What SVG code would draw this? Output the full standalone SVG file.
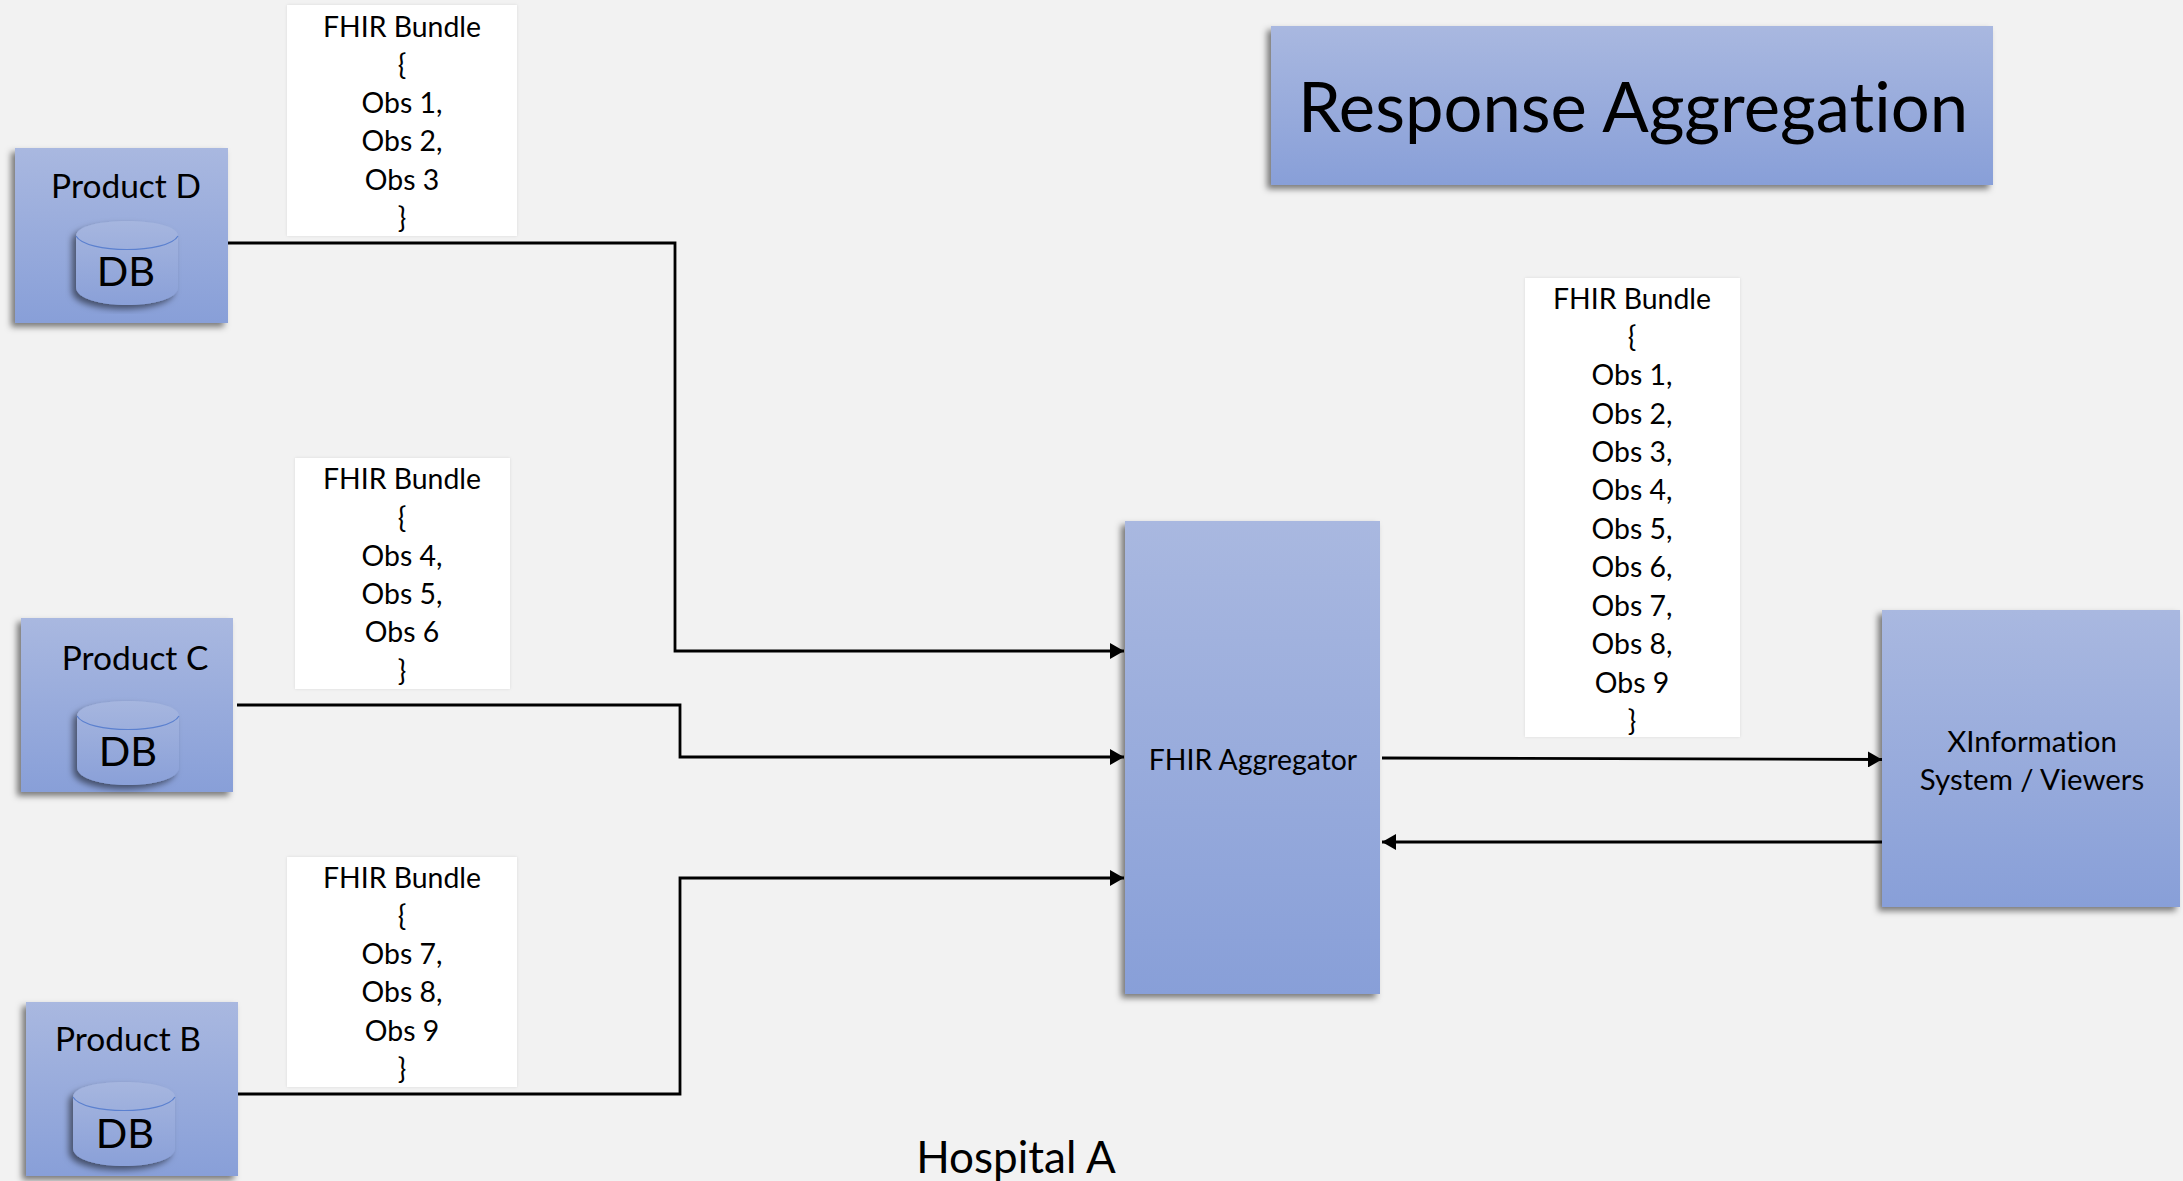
<svg xmlns="http://www.w3.org/2000/svg" width="2183" height="1181" viewBox="0 0 2183 1181">
<defs>
<linearGradient id="g" x1="0" y1="0" x2="0" y2="1"><stop offset="0" stop-color="#a9b8e0"/><stop offset="1" stop-color="#889fd8"/></linearGradient>
<linearGradient id="c" x1="0" y1="0" x2="0" y2="1"><stop offset="0" stop-color="#a6b6df"/><stop offset="1" stop-color="#8aa0d8"/></linearGradient>
<filter id="s" x="-10%" y="-10%" width="120%" height="120%"><feDropShadow dx="-4" dy="4" stdDeviation="3" flood-color="#000" flood-opacity=".5"/></filter>
<filter id="w" x="-5%" y="-5%" width="110%" height="110%"><feDropShadow dx="0" dy="0" stdDeviation="1.5" flood-color="#000" flood-opacity=".1"/></filter>
<marker id="a" viewBox="0 0 14 16" refX="14" refY="8" markerWidth="14" markerHeight="16" markerUnits="userSpaceOnUse" orient="auto"><path d="M0 0L14 8L0 16z" fill="#000"/></marker>
<g id="db"><path d="M0 15C0-5 102-5 102 15V66C102 90 0 90 0 66Z" fill="url(#c)" filter="url(#s)"/><path d="M0 15C10 33 92 33 102 15" fill="none" stroke="#5b80cf" stroke-width="1.2"/></g>
</defs>
<style>
text{font-family:Lato,"Open Sans",sans-serif;fill:#000;text-anchor:middle;font-variant-ligatures:none}
.t{font-size:28.4px}.v{font-size:29.4px}.b{font-size:33.5px}.d{font-size:41.5px}
.box{fill:url(#g);filter:url(#s)}.wb{fill:#fff;filter:url(#w)}
.cn{fill:none;stroke:#000;stroke-width:2.8;marker-end:url(#a)}
</style>
<rect width="2183" height="1181" fill="#f2f2f2"/>
<g id="title"><rect class="box" x="1271" y="26" width="722" height="159"/><text x="1633" y="132" font-size="70" textLength="670" lengthAdjust="spacingAndGlyphs">Response Aggregation</text></g>
<g id="bundle-d"><rect class="wb" x="287" y="5" width="230" height="231"/>
<text class="t" x="402" y="37">FHIR Bundle</text><text class="t" x="402" y="75">{</text><text class="t" x="402" y="113">Obs 1,</text><text class="t" x="402" y="151">Obs 2,</text><text class="t" x="402" y="190">Obs 3</text><text class="t" x="402" y="228">}</text></g>
<g id="bundle-c"><rect class="wb" x="295" y="458" width="215" height="231"/>
<text class="t" x="402" y="489">FHIR Bundle</text><text class="t" x="402" y="528">{</text><text class="t" x="402" y="566">Obs 4,</text><text class="t" x="402" y="604">Obs 5,</text><text class="t" x="402" y="642">Obs 6</text><text class="t" x="402" y="681">}</text></g>
<g id="bundle-b"><rect class="wb" x="287" y="857" width="230" height="230"/>
<text class="t" x="402" y="888">FHIR Bundle</text><text class="t" x="402" y="926">{</text><text class="t" x="402" y="964">Obs 7,</text><text class="t" x="402" y="1002">Obs 8,</text><text class="t" x="402" y="1041">Obs 9</text><text class="t" x="402" y="1079">}</text></g>
<g id="bundle-all"><rect class="wb" x="1525" y="278" width="215" height="459"/>
<text class="t" x="1632" y="309">FHIR Bundle</text><text class="t" x="1632" y="347">{</text><text class="t" x="1632" y="385">Obs 1,</text><text class="t" x="1632" y="424">Obs 2,</text><text class="t" x="1632" y="462">Obs 3,</text><text class="t" x="1632" y="500">Obs 4,</text><text class="t" x="1632" y="539">Obs 5,</text><text class="t" x="1632" y="577">Obs 6,</text><text class="t" x="1632" y="616">Obs 7,</text><text class="t" x="1632" y="654">Obs 8,</text><text class="t" x="1632" y="693">Obs 9</text><text class="t" x="1632" y="731">}</text></g>
<g id="product-d"><rect class="box" x="15" y="148" width="213" height="175"/><text class="b" x="126" y="198">Product D</text><use href="#db" x="76" y="221"/><text class="d" x="126" y="286">DB</text></g>
<g id="product-c"><rect class="box" x="21" y="618" width="212" height="174"/><text class="b" x="135" y="670">Product C</text><use href="#db" x="77" y="701"/><text class="d" x="128" y="766">DB</text></g>
<g id="product-b"><rect class="box" x="26" y="1002" width="212" height="174"/><text class="b" x="128" y="1051">Product B</text><use href="#db" x="73" y="1082"/><text class="d" x="125" y="1148">DB</text></g>
<g id="aggregator"><rect class="box" x="1125" y="521" width="255" height="473"/><text class="t" x="1253" y="770">FHIR Aggregator</text></g>
<g id="viewers"><rect class="box" x="1882" y="610" width="298" height="297"/><text class="v" x="2032" y="752">XInformation</text><text class="v" x="2032" y="790">System / Viewers</text></g>
<text id="hospital" x="1016" y="1173" font-size="44">Hospital A</text>
<g id="connectors">
<path class="cn" d="M228 243H675V651H1124"/>
<path class="cn" d="M237 705H680V757H1124"/>
<path class="cn" d="M238 1094H680V878H1124"/>
<path class="cn" d="M1382 758L1882 759.5"/>
<path class="cn" d="M1882 842H1382"/>
</g>
</svg>
